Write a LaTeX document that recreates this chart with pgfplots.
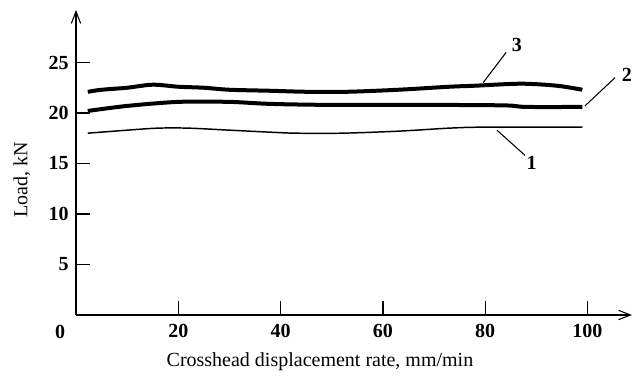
\documentclass[border=0pt]{standalone}
\usepackage{pgfplots}
\pgfplotsset{compat=1.18}
\usetikzlibrary{arrows.meta}
\usepackage{fontspec}
\setmainfont{Liberation Serif}
\begin{document}
\begin{tikzpicture}[font=\fontsize{15}{17}\selectfont]
\begin{axis}[
  anchor=origin, at={(0,0)},
  scale only axis,
  x=3.836pt, y=7.575pt,
  xmin=0, xmax=108.7, ymin=0, ymax=30.2,
  axis lines=left,
  axis line style={line width=1pt, -{Straight Barb[length=9pt,width=7pt,line width=0.8pt]}},
  tick align=inside,
  major tick length=10.5pt,
  tick style={line width=1pt, black},
  xtick={20,40,60,80,100},
  ytick={5,10,15,20,25},
  every tick label/.append style={font=\fontsize{15}{17}\selectfont\bfseries},
  xticklabel style={yshift=-3pt},
  yticklabel style={xshift=-2pt},
  /pgf/number format/assume math mode=true,
  clip=false,
]
\addplot[black, line width=3pt, smooth] coordinates {
(2.3,22.1)(5,22.3)(10,22.5)(15,22.8)(20,22.6)(25,22.5)(30,22.3)(38,22.2)(45,22.1)(53,22.1)(63,22.3)(73,22.6)(78,22.7)(87,22.9)(94,22.7)(99,22.3)};
\addplot[black, line width=3pt, smooth] coordinates {
(2.3,20.2)(10,20.7)(20,21.1)(30,21.1)(38,20.9)(50,20.8)(70,20.8)(84,20.75)(88,20.6)(99,20.6)};
\addplot[black, line width=1.1pt, smooth] coordinates {
(2.3,18.0)(10,18.3)(16,18.5)(22,18.5)(30,18.3)(38,18.1)(43,18.0)(52,18.0)(63,18.2)(73,18.5)(80,18.6)(99,18.6)};
\draw[line width=0.8pt] (axis cs:79.6,23.0) -- (axis cs:84.1,26.0);
\draw[line width=0.8pt] (axis cs:99.5,20.7) -- (axis cs:105.4,23.5);
\draw[line width=0.8pt] (axis cs:82.3,18.3) -- (axis cs:87.8,15.8);
\node[font=\fontsize{15}{17}\selectfont\bfseries] at (axis cs:86.2,26.7) {3};
\node[font=\fontsize{15}{17}\selectfont\bfseries] at (axis cs:107.7,23.8) {2};
\node[font=\fontsize{15}{17}\selectfont\bfseries] at (axis cs:89.1,15.1) {1};
\node[font=\fontsize{15}{17}\selectfont\bfseries] at ([yshift=-12.4pt]axis cs:-3.1,0) {0};
\node at ([yshift=-35pt]axis cs:47.7,0) {Crosshead displacement rate, mm/min};
\node[rotate=90] at ([xshift=-40.5pt]axis cs:0,13.4) {Load, kN};
\end{axis}
\path (-57pt,-46.5pt) rectangle (424.5pt,236.25pt);
\end{tikzpicture}
\end{document}
